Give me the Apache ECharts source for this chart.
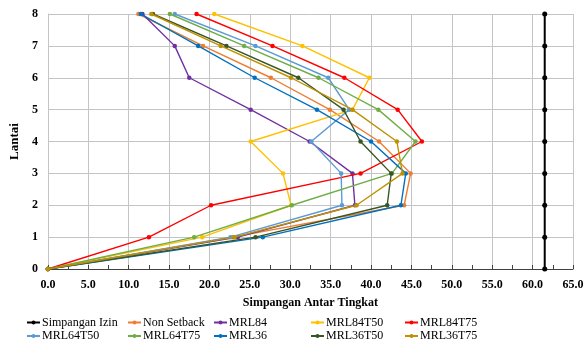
<!DOCTYPE html>
<html>
<head>
<meta charset="utf-8">
<script src="https://cdn.jsdelivr.net/npm/echarts@6/dist/echarts.min.js"></script>
<style>html,body{margin:0;padding:0;background:#fff}#c{width:587px;height:342px}</style>
</head>
<body>
<div id="c"></div>
<script>
var floors = [0, 1, 2, 3, 4, 5, 6, 7, 8];
var xTicks = [0, 5, 10, 15, 20, 25, 30, 35, 40, 45, 50, 55, 60, 65];
var seriesNames = ['Simpangan Izin', 'Non Setback', 'MRL84', 'MRL84T50', 'MRL84T75',
                   'MRL64T50', 'MRL64T75', 'MRL36', 'MRL36T50', 'MRL36T75'];
var simpanganIzin = [61.5, 61.5, 61.5, 61.5, 61.5, 61.5, 61.5, 61.5, 61.5];
var nonSetback = [0, 22.9, 44.1, 44.9, 41.0, 34.9, 27.6, 19.2, 11.2];
var mrl84      = [0, 23.5, 38.0, 37.7, 32.4, 25.1, 17.5, 15.7, 11.7];
var mrl84t50   = [0, 19.1, 30.1, 29.1, 25.1, 37.7, 39.8, 31.5, 20.6];
var mrl84t75   = [0, 12.5, 20.2, 38.7, 46.3, 43.3, 36.7, 27.8, 18.4];
var mrl64t50   = [0, 22.6, 36.4, 36.3, 32.6, 37.3, 34.7, 25.7, 15.7];
var mrl64t75   = [0, 18.1, 30.2, 42.6, 45.5, 40.9, 33.5, 24.3, 15.1];
var mrl36      = [0, 26.6, 43.7, 44.3, 40.0, 33.3, 25.6, 18.6, 11.5];
var mrl36t50   = [0, 25.7, 42.0, 42.5, 38.7, 36.6, 31.0, 22.1, 13.0];
var mrl36t75   = [0, 23.1, 38.2, 43.9, 43.2, 37.7, 30.1, 21.4, 12.8];
var seriesValues = [simpanganIzin, nonSetback, mrl84, mrl84t50, mrl84t75,
                    mrl64t50, mrl64t75, mrl36, mrl36t50, mrl36t75];
var colors = ['#000000', '#ED7D31', '#7030A0', '#FFC000', '#FF0000',
              '#5B9BD5', '#70AD47', '#0070C0', '#375623', '#BF9000'];

var serif = '"Liberation Serif", "Times New Roman", serif';
var chart = echarts.init(document.getElementById('c'), null, {renderer: 'canvas'});

var series = seriesNames.map(function (n, i) {
  return {
    name: n,
    type: 'line',
    data: seriesValues[i].map(function (v, k) { return [v, floors[k]]; }),
    symbol: 'circle',
    symbolSize: i === 0 ? 5 : 4.5,
    showSymbol: true,
    lineStyle: {width: i === 0 ? 2 : 1.4, color: colors[i]},
    itemStyle: {color: colors[i]},
    z: 2 + i,
    animation: false
  };
});

var colLeft = [26, 127, 213, 310, 404];
var legends = [];
seriesNames.forEach(function (n, i) {
  var col = i % 5, row = Math.floor(i / 5);
  legends.push({
    data: [n],
    left: colLeft[col],
    top: row === 0 ? 316.5 : 330,
    itemWidth: 13,
    itemHeight: 5,
    itemGap: 0,
    padding: 0,
    textStyle: {fontFamily: serif, fontSize: 12, color: '#000', padding: [0, 0, 0, -3]}
  });
});

chart.setOption({
  backgroundColor: '#fff',
  color: colors,
  animation: false,
  grid: {left: 44, right: 14, top: 14, bottom: 73},
  legend: legends,
  xAxis: {
    type: 'value', min: 0, max: 65, interval: 5,
    name: 'Simpangan Antar Tingkat', nameLocation: 'middle', nameGap: 28,
    nameTextStyle: {fontFamily: serif, fontWeight: 'bold', fontSize: 12, color: '#000'},
    axisLine: {show: true, lineStyle: {color: '#404040', width: 1}},
    axisTick: {show: true, inside: true, length: 4, lineStyle: {color: '#404040'}},
    minorTick: {show: true, splitNumber: 2, length: 4, lineStyle: {color: '#404040'}},
    axisLabel: {fontFamily: serif, fontWeight: 'bold', fontSize: 12, color: '#000', margin: 10,
      formatter: function (v) { return xTicks.indexOf(v) >= 0 ? v.toFixed(1) : ''; }},
    splitLine: {show: true, lineStyle: {color: '#c4c4c4', width: 1}}
  },
  yAxis: {
    type: 'value', min: 0, max: 8, interval: 1,
    name: 'Lantai', nameLocation: 'middle', nameGap: 26, nameRotate: 90,
    nameTextStyle: {fontFamily: serif, fontWeight: 'bold', fontSize: 13, color: '#000'},
    axisLine: {show: true, lineStyle: {color: '#c4c4c4'}},
    axisTick: {show: false},
    axisLabel: {fontFamily: serif, fontWeight: 'bold', fontSize: 12, color: '#000', margin: 10},
    splitLine: {show: true, lineStyle: {color: '#c4c4c4', width: 1}}
  },
  series: series
});
</script>
</body>
</html>
